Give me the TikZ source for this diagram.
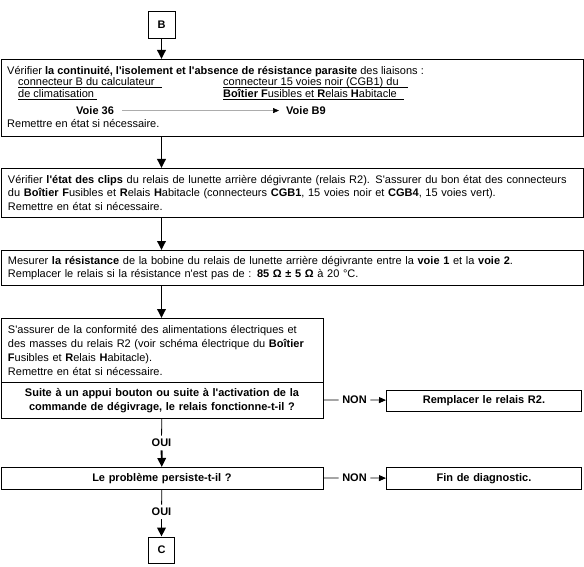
\documentclass[tikz,border=0pt]{standalone}
\usepackage{fontspec}
\setmainfont{Liberation Sans}[Ligatures=TeXOff]
\usetikzlibrary{arrows.meta}

\tikzset{
  box/.style={draw, line width=0.9pt, inner xsep=7pt, inner ysep=0pt},
  leftbox/.style={box, anchor=north west, align=left},
  midbox/.style={box, anchor=north west, align=center, font=\fontsize{11}{14}\selectfont\bfseries},
  lbl/.style={font=\fontsize{11}{13}\selectfont\bfseries},
  txt/.style={anchor=base west, inner sep=0pt},
  flow/.style={line width=1.8pt, -{Triangle[length=9pt,width=8.5pt]}},
  stem/.style={line width=0.8pt},
  side/.style={line width=0.8pt},
  sidearrow/.style={line width=0.8pt, -{Triangle[length=7pt,width=6pt]}},
  rule/.style={line width=0.8pt}
}

\begin{document}
\begin{tikzpicture}[x=1pt, y=-1pt, font=\fontsize{11}{13.5}\selectfont]
\useasboundingbox (0,0) rectangle (584,567);

% entry
\node[box, lbl, inner sep=0pt, minimum width=27pt, minimum height=27pt] (B) at (161.5,24.5) {B};

% box 1: continuity check
\node[box, anchor=north west, minimum width=582.5pt, minimum height=77pt] (verif) at (0.5,59) {};
\node[txt] (verifA) at (7,75) {Vérifier \textbf{la continuité, l'isolement et l'absence de résistance parasite} des liaisons :};
\node[txt] (calcA) at (18,86) {connecteur B du calculateur};
\node[txt] (calcB) at (18,98) {de climatisation};
\node[txt] (bfrhA) at (223,86) {connecteur 15 voies noir (CGB1) du};
\node[txt] (bfrhB) at (223,98) {\textbf{Boîtier F}usibles et \textbf{R}elais \textbf{H}abitacle};
\draw[rule] (18,87.8) -- (162,87.8);
\draw[rule] (18,99.8) -- (97,99.8);
\draw[rule] (223,87.8) -- (408,87.8);
\draw[rule] (223,99.8) -- (404,99.8);
\node[txt, font=\fontsize{11}{13.5}\selectfont\bfseries] (voie36) at (76,114.5) {Voie 36};
\node[txt, font=\fontsize{11}{13.5}\selectfont\bfseries] (voieB9) at (286,114.5) {Voie B9};
\draw[draw=gray, line width=0.6pt, -{Triangle[length=6pt,width=5pt,color=black]}, shorten <=8pt, shorten >=7pt] (voie36) -- (voieB9);
\node[txt] (verifR) at (7,127.5) {Remettre en état si nécessaire.};

% box 2: clips
\node[leftbox, text width=568.5pt, minimum height=49pt] (clips) at (0.5,168) {Vérifier \textbf{l'état des clips} du relais de lunette arrière dégivrante (relais R2). S'assurer du bon état des connecteurs\\
du \textbf{Boîtier F}usibles et \textbf{R}elais \textbf{H}abitacle (connecteurs \textbf{CGB1}, 15 voies noir et \textbf{CGB4}, 15 voies vert).\\
Remettre en état si nécessaire.};

% box 3: coil resistance
\node[leftbox, text width=568.5pt, minimum height=35pt] (resist) at (0.5,250) {Mesurer \textbf{la résistance} de la bobine du relais de lunette arrière dégivrante entre la \textbf{voie 1} et la \textbf{voie 2}.\\
Remplacer le relais si la résistance n'est pas de : \textbf{85 Ω ± 5 Ω} à 20 °C.};

% box 4: supplies and test
\node[leftbox, text width=308pt, minimum height=64pt, font=\fontsize{11}{14}\selectfont] (alim) at (0.5,318) {S'assurer de la conformité des alimentations électriques et\\
des masses du relais R2 (voir schéma électrique du \textbf{Boîtier}\\
\textbf{F}usibles et \textbf{R}elais \textbf{H}abitacle).\\
Remettre en état si nécessaire.};
\node[midbox, text width=308pt, minimum height=36pt] (suite) at (0.5,382) {Suite à un appui bouton ou suite à l'activation de la\\
commande de dégivrage, le relais fonctionne-t-il ?};
\node[midbox, text width=181pt, minimum height=21pt] (rempl) at (386,389.5) {Remplacer le relais R2.};

\node[midbox, text width=308pt, minimum height=22pt] (persist) at (0.5,467) {Le problème persiste-t-il ?};
\node[midbox, text width=181pt, minimum height=22pt] (fin) at (386,467) {Fin de diagnostic.};

% exit
\node[box, lbl, inner sep=0pt, minimum width=26pt, minimum height=26pt] (C) at (161.5,550) {C};

% answers
\node[lbl] (oui1) at (161.5,443) {OUI};
\node[lbl] (oui2) at (161.5,512) {OUI};
\node[lbl] (non1) at (354.5,400) {NON};
\node[lbl] (non2) at (354.5,478) {NON};

% connectors
\draw[flow] (B) -- (B |- verif.north);
\draw[flow] (verif.south -| B) -- (clips.north -| B);
\draw[flow] (clips.south -| B) -- (resist.north -| B);
\draw[flow] (resist.south -| B) -- (alim.north -| B);
\draw[stem] (suite) -- (oui1);
\draw[flow] (oui1) -- (persist);
\draw[stem] (persist) -- (oui2);
\draw[flow] (oui2) -- (C);
\draw[side] (suite) -- (non1);
\draw[sidearrow] (non1) -- (rempl);
\draw[side] (persist) -- (non2);
\draw[sidearrow] (non2) -- (fin);
\end{tikzpicture}
\end{document}
